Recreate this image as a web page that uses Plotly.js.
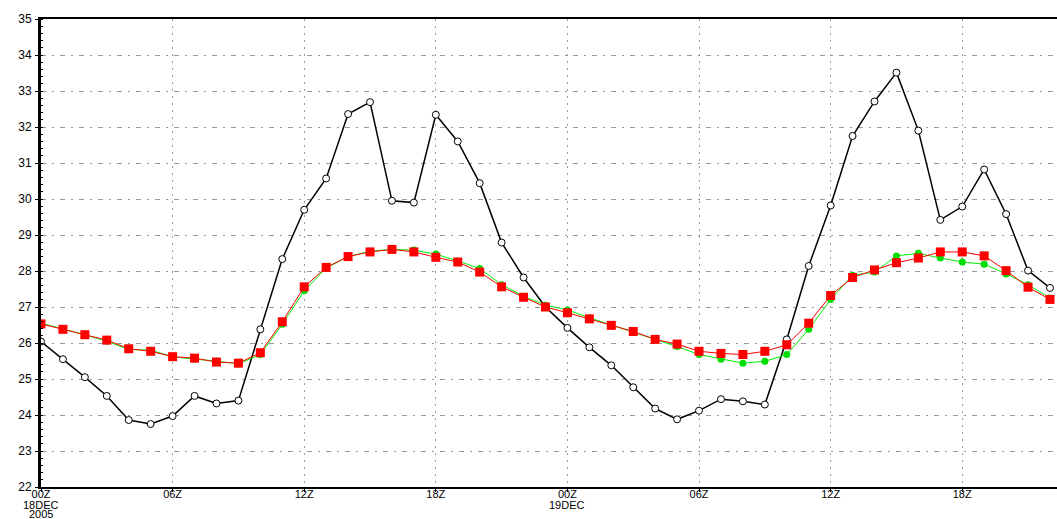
<!DOCTYPE html>
<html>
<head>
<meta charset="utf-8">
<script src="https://cdn.plot.ly/plotly-3.0.1.min.js"></script>
<style>html,body{margin:0;padding:0;background:#fff;}#chart{width:1057px;height:519px;}</style>
</head>
<body>
<div id="chart"></div>
<script>
// hours since 00Z 18DEC2005
const hours = Array.from({length: 47}, (_, i) => i);

const blackSeries = [26.04,25.55,25.05,24.53,23.86,23.75,23.97,24.53,24.32,24.40,
  26.38,28.33,29.70,30.57,32.36,32.69,29.95,29.90,32.34,31.60,
  30.44,28.79,27.82,27.00,26.42,25.88,25.38,24.77,24.18,23.88,
  24.12,24.44,24.38,24.29,26.10,28.14,29.82,31.75,32.71,33.51,
  31.90,29.42,29.79,30.82,29.58,28.01,27.53];

const greenSeries = [26.55,26.40,26.23,26.05,25.82,25.80,25.62,25.55,25.50,25.42,
  25.68,26.52,27.45,28.08,28.40,28.55,28.60,28.58,28.47,28.28,
  28.07,27.62,27.30,27.05,26.92,26.70,26.50,26.32,26.12,25.90,
  25.68,25.55,25.44,25.49,25.68,26.38,27.21,27.88,27.97,28.42,
  28.49,28.36,28.25,28.19,27.92,27.62,27.25];

const redSeries = [26.53,26.38,26.23,26.08,25.84,25.77,25.62,25.58,25.47,25.44,
  25.73,26.59,27.56,28.10,28.40,28.53,28.60,28.53,28.38,28.25,
  27.97,27.56,27.27,27.00,26.84,26.67,26.49,26.32,26.10,25.97,
  25.77,25.71,25.68,25.77,25.95,26.55,27.32,27.82,28.03,28.23,
  28.36,28.53,28.53,28.42,28.01,27.55,27.21];

const xTickVals = [0, 6, 12, 18, 24, 30, 36, 42];
const xTickText = ['00Z', '06Z', '12Z', '18Z', '00Z', '06Z', '12Z', '18Z'];
const dateLabelX = [0, 24];
const dateLabelText = ['18DEC', '19DEC'];
const yearLabelX = [0];
const yearLabelText = ['2005'];
const yTickVals = [22,23,24,25,26,27,28,29,30,31,32,33,34,35];

const traces = [
  {x: hours, y: blackSeries, mode: 'lines+markers', type: 'scatter',
   line: {color: '#000000', width: 1.5},
   marker: {symbol: 'circle', size: 7, color: '#ffffff', line: {color: '#000000', width: 1}}},
  {x: hours, y: greenSeries, mode: 'lines+markers', type: 'scatter',
   line: {color: '#00ee00', width: 1},
   marker: {symbol: 'circle', size: 7, color: '#00dd00', line: {width: 0}}},
  {x: hours, y: redSeries, mode: 'lines+markers', type: 'scatter',
   line: {color: '#ff0000', width: 1},
   marker: {symbol: 'square', size: 9, color: '#ff0000', line: {width: 0}}}
];

const annFont = {family: 'Liberation Sans, Arial, sans-serif', size: 11, color: '#000'};
const annotations = [];
dateLabelX.forEach((x, i) => annotations.push({
  x: x, xref: 'x', y: 0, yref: 'paper', yanchor: 'middle', xanchor: 'center',
  yshift: -18, text: dateLabelText[i], showarrow: false, font: annFont
}));
yearLabelX.forEach((x, i) => annotations.push({
  x: x, xref: 'x', y: 0, yref: 'paper', yanchor: 'middle', xanchor: 'center',
  yshift: -27, text: yearLabelText[i], showarrow: false, font: annFont
}));

const layout = {
  width: 1057, height: 519,
  margin: {l: 41, r: 0, t: 19, b: 32, pad: 0},
  paper_bgcolor: '#ffffff', plot_bgcolor: '#ffffff',
  showlegend: false,
  font: {family: 'Liberation Sans, Arial, sans-serif', size: 11, color: '#000'},
  annotations: annotations,
  xaxis: {
    range: [0, 46.32], tickmode: 'array', tickvals: xTickVals, ticktext: xTickText,
    showgrid: true, gridcolor: '#9a9a9a', gridwidth: 1, griddash: '2px,5px',
    showline: true, linecolor: '#000', linewidth: 2, mirror: true,
    ticks: 'outside', ticklen: 3, tickcolor: '#000', ticklabelstandoff: -7,
    zeroline: false, tickfont: {size: 11},
    fixedrange: true
  },
  yaxis: {
    range: [22, 35], tickmode: 'array', tickvals: yTickVals,
    showgrid: true, gridcolor: '#9a9a9a', gridwidth: 1, griddash: '5px,6px,2px,6px',
    showline: true, linecolor: '#000', linewidth: 3, mirror: false,
    ticks: 'outside', ticklen: 3, tickcolor: '#000',
    minor: {dtick: 0.2, ticks: 'inside', ticklen: 2, tickcolor: '#000', showgrid: false},
    zeroline: false, tickfont: {size: 12}, ticklabelstandoff: 1,
    fixedrange: true
  }
};

Plotly.newPlot('chart', traces, layout, {displayModeBar: false, staticPlot: true});
</script>
</body>
</html>
